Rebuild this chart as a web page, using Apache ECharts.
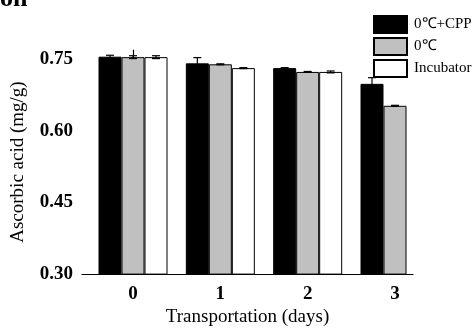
<!DOCTYPE html>
<html>
<head>
<meta charset="utf-8">
<script src="https://cdn.jsdelivr.net/npm/echarts@6/dist/echarts.min.js"></script>
<style>
  html, body { margin: 0; padding: 0; background: #fff; }
  #chart { width: 473px; height: 332px; }
</style>
</head>
<body>
<div id="chart"></div>
<script>
// days on x axis
var days = [0, 1, 2, 3];
var seriesNames = ['0℃+CPP', '0℃', 'Incubator'];
// ascorbic acid (mg/g)
var cppValues = [0.756, 0.742, 0.732, 0.699];
var coldValues = [0.755, 0.740, 0.724, 0.653];
var incubatorValues = [0.755, 0.732, 0.724, null];
// standard errors
var cppErr = [0.003, 0.012, 0.001, 0.013];
var coldErr = [0.003, 0.001, 0.001, 0.001];
var incubatorErr = [0.003, 0.001, 0.002, null];
var yTicks = [0.30, 0.45, 0.60, 0.75];

var serif = 'Liberation Serif';
var barW = 23;

function pairs(vals) {
  return days.map(function (d, i) { return vals[i] == null ? null : [d, vals[i]]; })
    .filter(function (p) { return p; });
}
function errTriples(vals, errs) {
  return days.map(function (d, i) { return vals[i] == null ? null : [d, vals[i], errs[i]]; })
    .filter(function (p) { return p; });
}
function errSeries(vals, errs, offset) {
  return {
    type: 'custom',
    z: 5,
    silent: true,
    data: errTriples(vals, errs),
    renderItem: function (params, api) {
      var x = api.value(0), y = api.value(1), e = api.value(2);
      var hi = api.coord([x, y + e]);
      var lo = api.coord([x, y - e]);
      var cx = hi[0] + offset;
      var cap = 4;
      var st = { stroke: '#000', lineWidth: 1.2 };
      return {
        type: 'group',
        children: [
          { type: 'line', shape: { x1: cx, y1: hi[1], x2: cx, y2: lo[1] }, style: st },
          { type: 'line', shape: { x1: cx - cap, y1: hi[1], x2: cx + cap, y2: hi[1] }, style: st },
          { type: 'line', shape: { x1: cx - cap, y1: lo[1], x2: cx + cap, y2: lo[1] }, style: st }
        ]
      };
    }
  };
}

var chart = echarts.init(document.getElementById('chart'));
chart.setOption({
  animation: false,
  textStyle: { fontFamily: serif },
  graphic: [{
    type: 'text',
    left: 0,
    top: -14,
    style: { text: 'on', font: 'bold 26px "Liberation Serif"', fill: '#000' }
  }],
  legend: {
    orient: 'vertical',
    left: 373,
    top: 15,
    padding: 0,
    itemWidth: 33,
    itemHeight: 17,
    itemGap: 3,
    icon: 'rect',
    data: seriesNames,
    textStyle: { fontFamily: serif, fontSize: 15, color: '#000', padding: [0, 0, 0, 2] }
  },
  grid: { left: 82, right: 60, top: 50, bottom: 49, containLabel: false },
  xAxis: {
    type: 'value',
    min: -0.584,
    max: 3.206,
    name: 'Transportation (days)',
    nameLocation: 'middle',
    nameGap: 27,
    nameTextStyle: { fontFamily: serif, fontSize: 19, color: '#000' },
    splitLine: { show: false },
    axisLine: { show: true, lineStyle: { color: '#000', width: 1.2 } },
    axisTick: { show: true, inside: true, length: 5, customValues: days, lineStyle: { color: '#000' } },
    axisLabel: {
      customValues: days,
      margin: 10,
      fontFamily: serif, fontSize: 19, fontWeight: 'bold', color: '#000'
    }
  },
  yAxis: {
    type: 'value',
    min: 0.30,
    max: 0.77,
    name: 'Ascorbic acid (mg/g)',
    nameLocation: 'middle',
    nameGap: 54,
    nameTextStyle: { fontFamily: serif, fontSize: 19, color: '#000' },
    splitLine: { show: false },
    axisLine: { show: true, lineStyle: { color: '#000', width: 1.2 } },
    axisTick: { show: true, inside: true, length: 5, customValues: yTicks, lineStyle: { color: '#000' } },
    axisLabel: {
      customValues: yTicks,
      margin: 9,
      formatter: function (v) { return v.toFixed(2); },
      fontFamily: serif, fontSize: 19, fontWeight: 'bold', color: '#000'
    }
  },
  series: [
    {
      name: seriesNames[0], type: 'bar', barWidth: barW, barGap: '0%',
      itemStyle: { color: '#000', borderColor: '#000', borderWidth: 1 },
      data: pairs(cppValues)
    },
    {
      name: seriesNames[1], type: 'bar', barWidth: barW, barGap: '0%',
      itemStyle: { color: '#c0c0c0', borderColor: '#000', borderWidth: 1 },
      data: pairs(coldValues)
    },
    {
      name: seriesNames[2], type: 'bar', barWidth: barW, barGap: '0%',
      itemStyle: { color: '#fff', borderColor: '#000', borderWidth: 1 },
      data: pairs(incubatorValues)
    },
    errSeries(cppValues, cppErr, -barW),
    errSeries(coldValues, coldErr, 0),
    errSeries(incubatorValues, incubatorErr, barW)
  ]
});
</script>
</body>
</html>
